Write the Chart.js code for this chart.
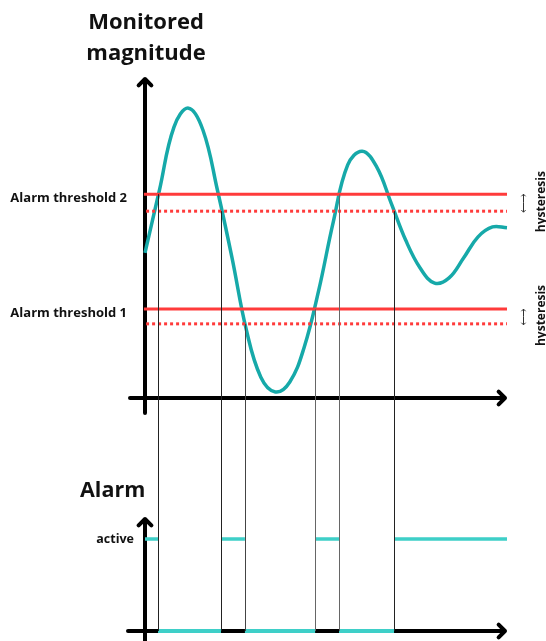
<!DOCTYPE html>
<html>
<head>
<meta charset="utf-8">
<script src="https://cdn.jsdelivr.net/npm/chart.js@4"></script>
<style>
  body { margin: 0; background: #fff; }
  #wrap { position: relative; width: 546px; height: 641px; }
  canvas { position: absolute; left: 0; }
  #magChart { top: 0; }
  #alarmChart { top: 460px; }
</style>
</head>
<body>
<div id="wrap">
  <canvas id="magChart" width="546" height="460"></canvas>
  <canvas id="alarmChart" width="546" height="181"></canvas>
</div>
<script>
// Verlauf der überwachten Größe (x: Zeit 0..100, y: Größe 0..10)
const zeit = [0, 4, 8, 12, 16, 20, 24, 28, 32, 36, 40, 44, 48, 52, 56, 60, 64, 68, 72, 76, 80, 84, 88, 92, 96, 100];
const groesse = [4.52, 6.48, 8.44, 9.03, 8.35, 6.48, 4.39, 2.12, 0.65, 0.19, 0.50, 1.59, 3.36, 5.48, 7.26, 7.69,
  7.20, 6.07, 4.92, 4.05, 3.58, 3.74, 4.36, 5.02, 5.33, 5.30];

// Schwellen (mit Hysterese)
const schwelle2 = 6.35, schwelle2Hyst = 5.82;
const schwelle1 = 2.77, schwelle1Hyst = 2.31;
const schwellenWerte = [schwelle1, schwelle2];
const schwellenLabels = ['Alarm threshold 1', 'Alarm threshold 2'];

// Umschaltzeitpunkte des Alarms und die Schwelle, bei der umgeschaltet wird
const schaltZeiten = [3.6, 21.0, 27.6, 47.0, 53.6, 68.8];
const schaltPegel = [schwelle2, schwelle2Hyst, schwelle1Hyst, schwelle1, schwelle2, schwelle2Hyst];
// Alarmzustand je Intervall (1 = aktiv)
const alarmGrenzen = [0, 3.6, 21.0, 27.6, 47.0, 53.6, 68.8, 100];
const alarmZustand = [1, 0, 1, 0, 1, 0, 1];

const FONT = "'Open Sans', 'DejaVu Sans', sans-serif";
const TEAL = '#16a9a9';
const TEAL_HELL = '#3ecfc8';
const ROT = '#ff3b3b';
const linienFarben = ['#222', '#222', '#444', '#666', '#666', '#222'];

function linie(x0, x1, y) {
    return [{ x: x0, y: y }, { x: x1, y: y }];
}

function pfeil(ctx, x0, y0, x1, y1, size) {
    const a = Math.atan2(y1 - y0, x1 - x0);
    ctx.beginPath();
    ctx.moveTo(x0, y0);
    ctx.lineTo(x1, y1);
    ctx.moveTo(x1 - size * Math.cos(a - Math.PI / 4), y1 - size * Math.sin(a - Math.PI / 4));
    ctx.lineTo(x1, y1);
    ctx.lineTo(x1 - size * Math.cos(a + Math.PI / 4), y1 - size * Math.sin(a + Math.PI / 4));
    ctx.stroke();
}

// Achsen mit Pfeilen zeichnen (vor den Datensätzen)
function achsenPlugin(unterhalb, links) {
    return {
        id: 'achsen',
        beforeDatasetsDraw(chart) {
            const ctx = chart.ctx;
            const area = chart.chartArea;
            const x0 = chart.scales.x.getPixelForValue(0);
            const y0 = chart.scales.y.getPixelForValue(0);
            ctx.save();
            ctx.strokeStyle = '#000';
            ctx.lineWidth = 4;
            ctx.lineCap = 'round';
            ctx.lineJoin = 'round';
            pfeil(ctx, x0, y0 + unterhalb, x0, area.top + 2, 9);
            pfeil(ctx, x0 - links, y0, area.right - 2, y0, 9);
            ctx.restore();
        }
    };
}

// Senkrechte Hilfslinien an den Umschaltpunkten
function hilfslinienPlugin(oben) {
    return {
        id: 'hilfslinien',
        afterDatasetsDraw(chart) {
            const ctx = chart.ctx;
            const xs = chart.scales.x, ys = chart.scales.y;
            ctx.save();
            ctx.lineWidth = 1;
            schaltZeiten.forEach((t, i) => {
                const px = Math.round(xs.getPixelForValue(t)) + 0.5;
                const yTop = oben ? ys.getPixelForValue(schaltPegel[i]) : 0;
                const yBot = oben ? chart.height : ys.getPixelForValue(0);
                ctx.strokeStyle = linienFarben[i];
                ctx.beginPath();
                ctx.moveTo(px, yTop);
                ctx.lineTo(px, yBot);
                ctx.stroke();
            });
            ctx.restore();
        }
    };
}

const beschriftungOben = {
    id: 'beschriftungOben',
    afterDraw(chart) {
        const ctx = chart.ctx;
        const ys = chart.scales.y;
        ctx.save();
        ctx.fillStyle = '#111';
        ctx.font = 'bold 22px ' + FONT;
        ctx.textAlign = 'center';
        ctx.fillText('Monitored', 146, 29);
        ctx.fillText('magnitude', 146, 60);

        // Hysterese-Pfeile und Texte
        [[schwelle2, schwelle2Hyst], [schwelle1, schwelle1Hyst]].forEach(p => {
            const a = ys.getPixelForValue(p[0]), b = ys.getPixelForValue(p[1]);
            ctx.strokeStyle = '#333';
            ctx.lineWidth = 1;
            pfeil(ctx, 523.5, (a + b) / 2, 523.5, a, 3);
            pfeil(ctx, 523.5, (a + b) / 2, 523.5, b + 1, 3);
            ctx.save();
            ctx.translate(545, (a + b) / 2 - 1);
            ctx.rotate(-Math.PI / 2);
            ctx.font = 'bold 12px ' + FONT;
            ctx.textAlign = 'center';
            ctx.textBaseline = 'alphabetic';
            ctx.fillText('hysteresis', 0, 0);
            ctx.restore();
        });
        ctx.restore();
    }
};

const beschriftungUnten = {
    id: 'beschriftungUnten',
    afterDraw(chart) {
        const ctx = chart.ctx;
        ctx.save();
        ctx.fillStyle = '#111';
        ctx.font = 'bold 21.5px ' + FONT;
        ctx.fillText('Alarm', 80, 37);
        ctx.restore();
    }
};

// Achsbreite fest, keine zusätzliche Randabstände durch die Tick-Beschriftung
function festeAchse(s) {
    s.width = 145;
    s.paddingTop = 0;
    s.paddingBottom = 0;
}

new Chart(document.getElementById('magChart'), {
    type: 'line',
    data: {
        datasets: [
            { data: linie(-0.3, 100, schwelle2), borderColor: ROT, borderWidth: 3 },
            { data: linie(0.3, 100, schwelle2Hyst), borderColor: ROT, borderWidth: 3, borderDash: [3, 3] },
            { data: linie(-0.3, 100, schwelle1), borderColor: ROT, borderWidth: 3 },
            { data: linie(0.3, 100, schwelle1Hyst), borderColor: ROT, borderWidth: 3, borderDash: [3, 3] },
            {
                data: zeit.map((t, i) => ({ x: t, y: groesse[i] })),
                borderColor: TEAL, borderWidth: 3.5, tension: 0.4
            }
        ].map(d => Object.assign({ pointRadius: 0, fill: false, clip: false }, d))
    },
    options: {
        responsive: false,
        animation: false,
        devicePixelRatio: 1,
        layout: { padding: { top: 77, right: 39, bottom: 62, left: 0 } },
        plugins: { legend: { display: false }, tooltip: { enabled: false } },
        scales: {
            x: { type: 'linear', min: 0, max: 100, display: false },
            y: {
                min: 0, max: 10,
                afterBuildTicks: s => { s.ticks = schwellenWerte.map(v => ({ value: v })); },
                afterFit: festeAchse,
                grid: { display: false, drawTicks: false },
                border: { display: false },
                ticks: {
                    padding: 18, labelOffset: 4, color: '#111',
                    font: { family: FONT, weight: 'bold', size: 13 },
                    callback: (v, i) => schwellenLabels[i]
                }
            }
        }
    },
    plugins: [achsenPlugin(15, 15), hilfslinienPlugin(true), beschriftungOben]
});

// Alarm-Segmente aus den Intervallen aufbauen
const aktivPunkte = [], inaktivPunkte = [];
alarmZustand.forEach((z, i) => {
    const ziel = z ? aktivPunkte : inaktivPunkte;
    ziel.push({ x: alarmGrenzen[i], y: z }, { x: alarmGrenzen[i + 1], y: z }, { x: alarmGrenzen[i + 1], y: null });
});

new Chart(document.getElementById('alarmChart'), {
    type: 'line',
    data: {
        datasets: [
            { data: inaktivPunkte, borderColor: TEAL_HELL, borderWidth: 4 },
            { data: aktivPunkte, borderColor: TEAL_HELL, borderWidth: 3.5 }
        ].map(d => Object.assign({ pointRadius: 0, fill: false, clip: false, spanGaps: false }, d))
    },
    options: {
        responsive: false,
        animation: false,
        devicePixelRatio: 1,
        layout: { padding: { top: 57, right: 39, bottom: 10, left: 0 } },
        plugins: { legend: { display: false }, tooltip: { enabled: false } },
        scales: {
            x: { type: 'linear', min: 0, max: 100, display: false },
            y: {
                min: 0, max: 1.24,
                afterBuildTicks: s => { s.ticks = [{ value: 1 }]; },
                afterFit: festeAchse,
                grid: { display: false, drawTicks: false },
                border: { display: false },
                ticks: {
                    padding: 11, color: '#111',
                    font: { family: FONT, weight: 'bold', size: 12.5 },
                    callback: () => 'active'
                }
            }
        }
    },
    plugins: [achsenPlugin(12, 17), hilfslinienPlugin(false), beschriftungUnten]
});
</script>
</body>
</html>
